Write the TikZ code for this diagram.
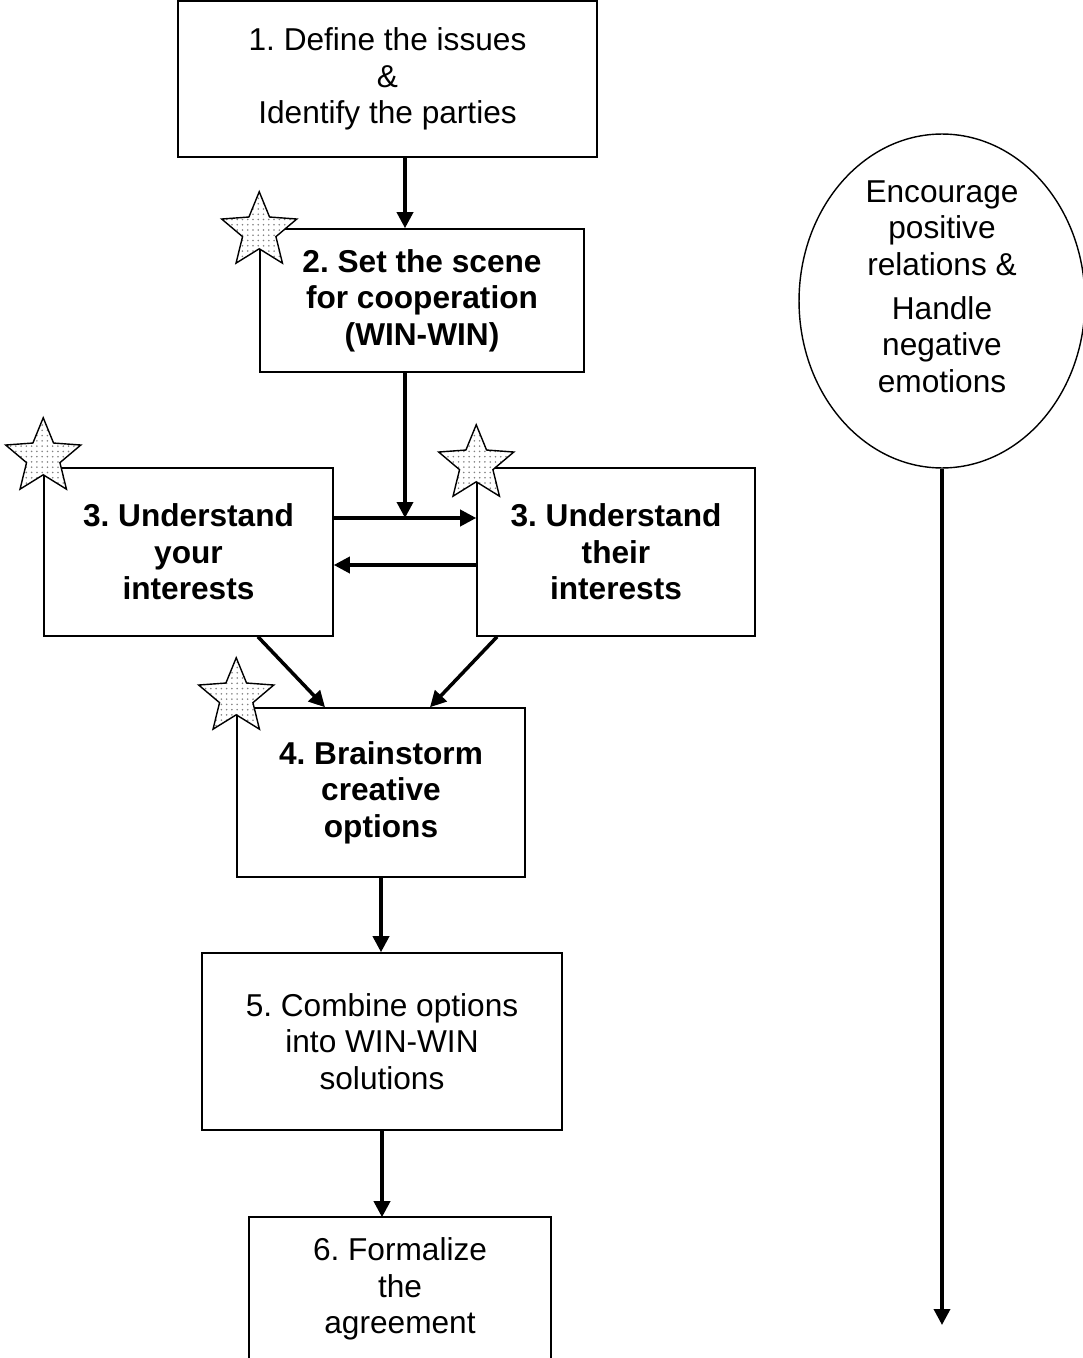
\documentclass[tikz,border=0pt]{standalone}
\usepackage{fontspec}
\setmainfont{Liberation Sans}
\frenchspacing
\usetikzlibrary{shapes.geometric,arrows.meta,patterns}
\tikzstyle{stepbox}=[draw, line width=0.9pt, align=center, inner sep=0pt, font=\fontsize{18}{20.7}\selectfont]
\tikzstyle{keybox}=[stepbox, font=\fontsize{18}{20.7}\selectfont\bfseries]
\tikzstyle{flow}=[line width=2pt, -{Triangle[length=0.32cm,width=0.32cm]}]
\tikzstyle{starmark}=[star, star points=5, star point ratio=2.25, draw, line width=0.8pt, preaction={fill=white}, pattern=dots, pattern color=gray, minimum size=1.58cm, inner sep=0pt]

\begin{document}
\begin{tikzpicture}[x=0.02cm, y=-0.02cm]
				\useasboundingbox (0,0) rectangle (1082,1358);
				\node[stepbox, minimum width=8.38cm, minimum height=3.12cm] (b1) at (387.5,79) {1. Define the issues\\\&\\Identify the parties};
				\node[keybox, minimum width=6.48cm, minimum height=2.86cm] (b2) at (422,300.5) {2. Set the scene\\for cooperation\\ (WIN-WIN)};
				\node[keybox, minimum width=5.78cm, minimum height=3.36cm] (b3a) at (188.5,552) {3. Understand\\your\\ interests};
				\node[keybox, minimum width=5.56cm, minimum height=3.36cm] (b3b) at (616,552) {3. Understand\\their\\ interests};
				\node[keybox, minimum width=5.76cm, minimum height=3.38cm] (b4) at (381,792.5) {4. Brainstorm\\creative\\options};
				\node[stepbox, minimum width=7.2cm, minimum height=3.54cm] (b5) at (382,1041.5) {5. Combine options\\into WIN-WIN\\solutions};
				\node[stepbox, draw=none, minimum width=6cm, minimum height=2.84cm] (b6) at (400,1289) {6. Formalize\\the\\agreement};
				\draw[line width=0.9pt] (b6.south west) |- (b6.north east) -- (b6.south east);
				\node[ellipse, draw, line width=0.8pt, minimum width=5.72cm, minimum height=6.68cm, inner sep=0pt] (emo) at (942,301) {};
				\node[stepbox, draw=none] (emotxt) at (942,286.5) {Encourage\\positive\\relations \&\\[0.16cm]Handle\\negative\\emotions};
				\coordinate (mid) at (405,518);
				\coordinate (end) at (942,1325);
				\draw[flow] (b1.south -| mid) -- (b2.north -| mid);
				\draw[flow] (b2.south -| mid) -- (mid);
				\draw[flow] (b3a.east |- mid) -- (b3b.west |- mid);
				\draw[flow] ([yshift=-0.26cm] b3b.west) -- ([yshift=-0.26cm] b3a.east);
				\draw[flow] ([xshift=1.39cm] b3a.south) -- ([xshift=-1.12cm] b4.north);
				\draw[flow] ([xshift=-2.38cm] b3b.south) -- ([xshift=0.98cm] b4.north);
				\draw[flow] (b4.south) -- (b4.south |- b5.north);
				\draw[flow] (b5.south) -- (b5.south |- b6.north);
				\draw[flow] (emo.south) -- (end);
				\node[starmark] (s2) at ([yshift=-0.06cm] b2.north west) {};
				\node[starmark] (s3a) at ([yshift=0.2cm] b3a.north west) {};
				\node[starmark] (s3b) at ([yshift=0.06cm] b3b.north west) {};
				\node[starmark] (s4) at ([yshift=0.2cm] b4.north west) {};
			\end{tikzpicture}
\end{document}
